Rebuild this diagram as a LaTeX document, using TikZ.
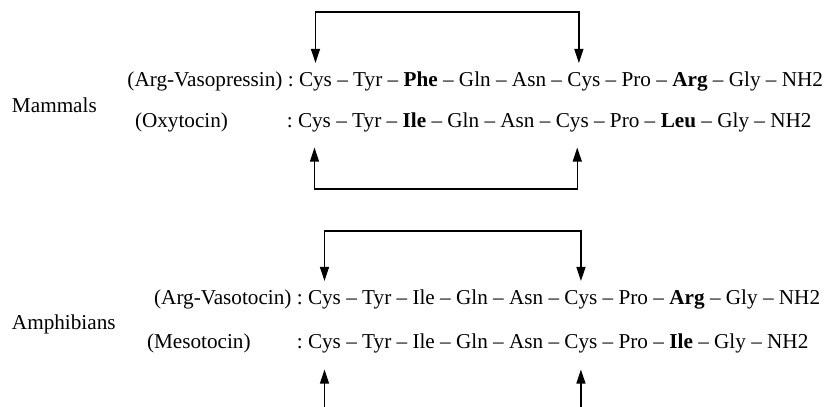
\documentclass[tikz,border=0pt]{standalone}
\usepackage{fontspec}
\setmainfont{Liberation Serif}
\usetikzlibrary{
  arrows.meta,
  positioning,
  calc}
\tikzset{every picture/.style={font issue=\fontsize{21.2}{25}},
         font issue/.style={execute at begin picture={#1\selectfont}}
        }
\tikzset{word/.style={inner sep=0pt, outer sep=0pt},
         bond/.style={line width=1.3pt, {Triangle[length=14pt,width=9pt]}-{Triangle[length=14pt,width=9pt]}},
         bondup/.style={line width=1.3pt, -{Triangle[length=14pt,width=9pt]}}
        }
\newcommand{\wsp}{5.3pt}

\begin{document}
\begin{tikzpicture}[x=1pt,y=-1pt]
\useasboundingbox (0,0) rectangle (825,407);

%Mammals
\node[word, anchor=base west] (mam) at (12,112) {Mammals};

\node[word, anchor=base west] (avp1) at (299,86) {Cys};
\node[word, base left=\wsp of avp1] (avpcol) {:};
\node[word, base left=\wsp of avpcol] (avp) {(Arg-Vasopressin)};
\node[word, base right=\wsp of avp1] (avpmid) {– Tyr – \textbf{Phe} – Gln – Asn –};
\node[word, base right=\wsp of avpmid] (avp2) {Cys};
\node[word, base right=\wsp of avp2] (avprest) {– Pro – \textbf{Arg} – Gly – NH2};

\node[word, anchor=base west] (oxt) at (135,127) {(Oxytocin)};
\node[word, anchor=base west] (oxt1) at (298,127) {Cys};
\node[word, base left=\wsp of oxt1] (oxtcol) {:};
\node[word, base right=\wsp of oxt1] (oxtmid) {– Tyr – \textbf{Ile} – Gln – Asn –};
\node[word, base right=\wsp of oxtmid] (oxt2) {Cys};
\node[word, base right=\wsp of oxt2] (oxtrest) {– Pro – \textbf{Leu} – Gly – NH2};

\coordinate (mtop) at (0,12);
\coordinate (mbot) at (0,189);

\draw[bond] ([yshift=9pt]avp1.north) -- (avp1 |- mtop) -| ([xshift=-5pt,yshift=9pt]avp2.north);
\draw[bond] ([yshift=-16pt]oxt1.south) -- (oxt1 |- mbot) -| ([xshift=5pt,yshift=-16pt]oxt2.south);

%Amphibians
\node[word, anchor=base west] (amp) at (12,329) {Amphibians};

\node[word, anchor=base west] (avt1) at (308,304) {Cys};
\node[word, base left=\wsp of avt1] (avtcol) {:};
\node[word, base left=\wsp of avtcol] (avt) {(Arg-Vasotocin)};
\node[word, base right=\wsp of avt1] (avtmid) {– Tyr – Ile – Gln – Asn –};
\node[word, base right=\wsp of avtmid] (avt2) {Cys};
\node[word, base right=\wsp of avt2] (avtrest) {– Pro – \textbf{Arg} – Gly – NH2};

\node[word, anchor=base west] (mst) at (147,348) {(Mesotocin)};
\node[word, anchor=base west] (mst1) at (308,348) {Cys};
\node[word, base left=\wsp of mst1] (mstcol) {:};
\node[word, base right=\wsp of mst1] (mstmid) {– Tyr – Ile – Gln – Asn –};
\node[word, base right=\wsp of mstmid] (mst2) {Cys};
\node[word, base right=\wsp of mst2] (mstrest) {– Pro – \textbf{Ile} – Gly – NH2};

\coordinate (atop) at (0,231);
\coordinate (abot) at (0,407);

\draw[bond] ([yshift=9pt]avt1.north) -- (avt1 |- atop) -| ([yshift=9pt]avt2.north);
\draw[bondup] (mst1 |- abot) -- ([yshift=-17pt]mst1.south);
\draw[bondup] (mst2 |- abot) -- ([yshift=-17pt]mst2.south);

\end{tikzpicture}
\end{document}
